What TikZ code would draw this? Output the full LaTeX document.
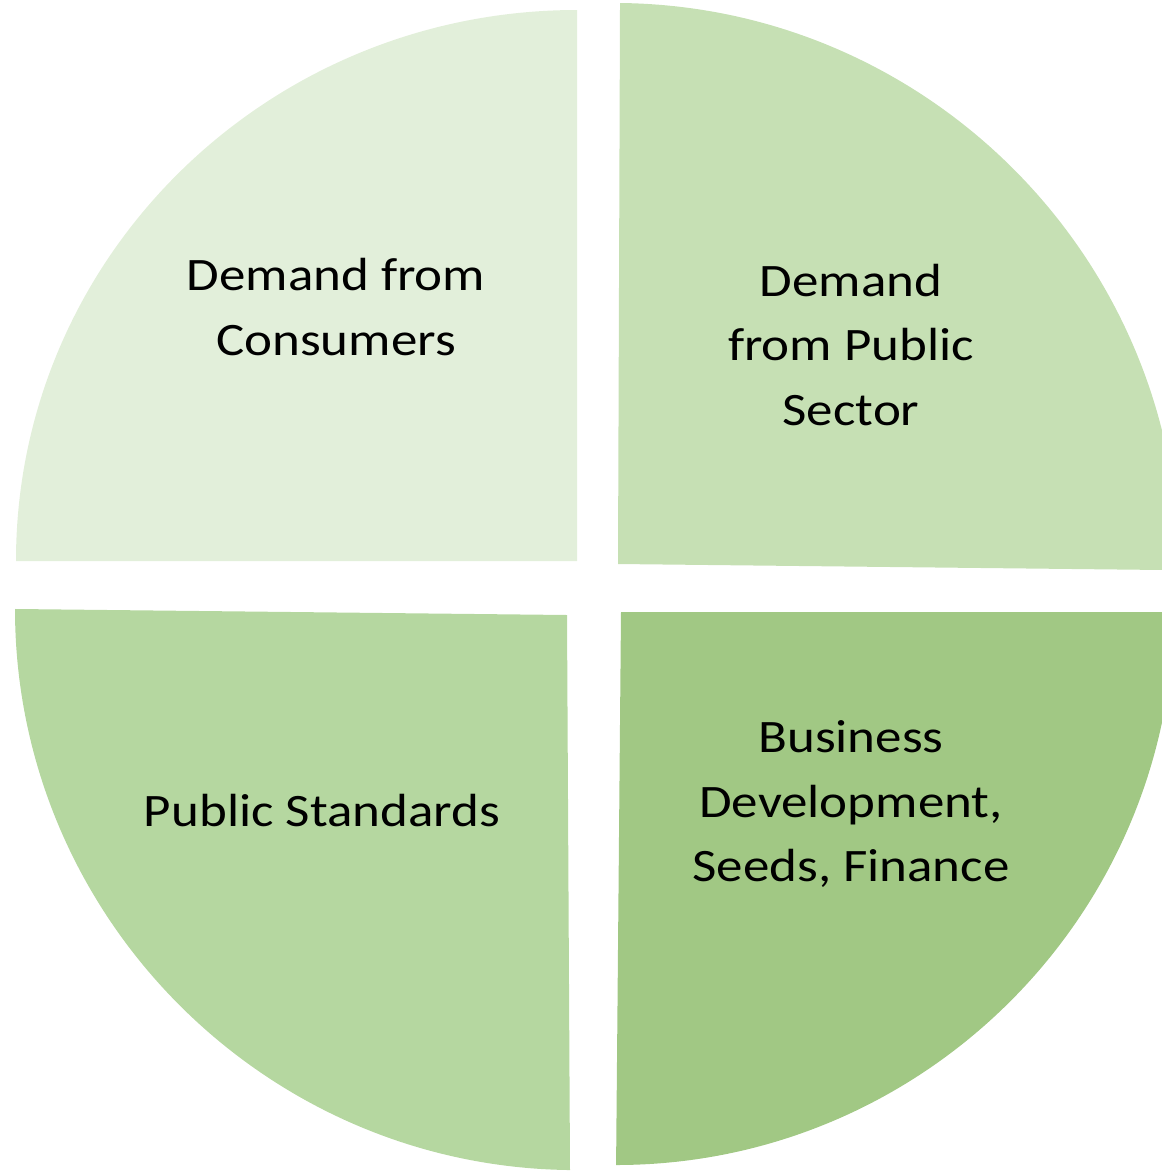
\documentclass[tikz,border=0pt]{standalone}
\usepackage{fontspec}
\setmainfont{Carlito}
\definecolor{qtl}{HTML}{E2EFDA}
\definecolor{qtr}{HTML}{C6E0B4}
\definecolor{qbl}{HTML}{B5D7A0}
\definecolor{qbr}{HTML}{A1C884}
\tikzset{
  lbl/.style={align=center, text=black, inner sep=0pt, xscale=1.14, transform shape,
    font=\fontsize{46.5}{64.5}\selectfont}
}
\begin{document}
\begin{tikzpicture}[x=1pt,y=1pt]
\useasboundingbox (0,0) rectangle (1162,-1171);
\clip (0,0) rectangle (1162,-1171);
% top-left quadrant
\fill[qtl] (577,-561) -- (577,-10) arc[start angle=90,end angle=180,x radius=561,y radius=551] -- cycle;
% top-right quadrant
\begin{scope}[cm={1,-0.011,0.0036,1,(618,-564)}]
\fill[qtr] (0,0) -- (561,0) arc[start angle=0,end angle=90,radius=561] -- cycle;
\end{scope}
% bottom-left quadrant
\begin{scope}[cm={1,-0.0109,0,1,(567,-615)}]
\fill[qbl] (0,0) -- (-552,0) arc[start angle=180,end angle=270,radius=555] -- cycle;
\end{scope}
% bottom-right quadrant
\begin{scope}[cm={1,0,0.0089,1,(621,-612)}]
\fill[qbr] (0,0) -- (0,-553) arc[start angle=270,end angle=360,radius=553] -- cycle;
\end{scope}
\node[lbl] (tl) at (336,-307) {Demand from\\Consumers};
\node[lbl] (tr) at (851,-345) {Demand\\from Public\\Sector};
\node[lbl] (bl) at (322,-811) {Public Standards};
\node[lbl] (br) at (851,-804) {Business\\Development,\\Seeds, Finance};
\end{tikzpicture}
\end{document}
